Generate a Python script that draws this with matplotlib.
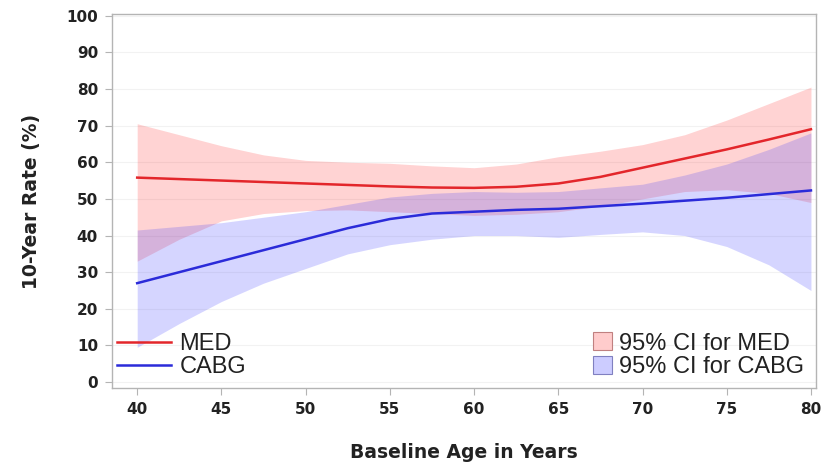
import numpy as np
import matplotlib
matplotlib.use("Agg")
import matplotlib.pyplot as plt
from matplotlib.patches import Patch

# -----------------------------
# Data
# -----------------------------
age = [40, 42.5, 45, 47.5, 50, 52.5, 55, 57.5, 60, 62.5, 65, 67.5, 70, 72.5, 75, 77.5, 80]

med = [55.8, 55.4, 55.0, 54.6, 54.2, 53.8, 53.4, 53.1, 53.0, 53.3, 54.2, 56.0, 58.5, 61.0, 63.5, 66.2, 69.0]
med_hi = [70.5, 67.5, 64.5, 62.0, 60.5, 60.0, 59.7, 59.0, 58.5, 59.5, 61.5, 63.0, 64.8, 67.5, 71.5, 76.0, 80.5]
med_lo = [33.0, 39.0, 44.0, 46.0, 46.8, 47.0, 46.5, 46.0, 45.5, 45.8, 46.5, 48.0, 50.0, 52.0, 52.5, 51.5, 49.0]

cabg = [27.0, 30.0, 33.0, 36.0, 39.0, 42.0, 44.5, 46.0, 46.5, 47.0, 47.3, 48.0, 48.7, 49.5, 50.3, 51.3, 52.3]
cabg_hi = [41.5, 42.5, 43.5, 45.0, 46.5, 48.5, 50.5, 51.5, 52.0, 51.8, 52.0, 53.0, 54.0, 56.5, 59.5, 63.5, 68.0]
cabg_lo = [9.5, 16.0, 22.0, 27.0, 31.0, 35.0, 37.5, 39.0, 40.0, 40.0, 39.5, 40.3, 41.0, 40.0, 37.0, 32.0, 25.0]

xticks = [40, 45, 50, 55, 60, 65, 70, 75, 80]
yticks = list(range(0, 101, 10))

red = "#e3262b"
blue = "#2b2bd9"

# -----------------------------
# Plot
# -----------------------------
fig = plt.figure(figsize=(8.23, 4.72), dpi=100)
ax = fig.add_axes([0.136, 0.178, 0.8555, 0.792])

ax.fill_between(age, med_lo, med_hi, color="#ff3030", alpha=0.21, linewidth=0)
ax.fill_between(age, cabg_lo, cabg_hi, color="#3030ff", alpha=0.2, linewidth=0)
l1, = ax.plot(age, med, color=red, lw=1.8)
l2, = ax.plot(age, cabg, color=blue, lw=1.8)

ax.set_xlim(38.5, 80.3)
ax.set_ylim(-1.6, 100.4)
ax.set_xticks(xticks)
ax.set_yticks(yticks)
ax.grid(axis="y", color="#f2f2f2", lw=0.8)
ax.set_axisbelow(True)

for s in ax.spines.values():
    s.set_color("#b4b4b4")
    s.set_linewidth(1.0)
ax.tick_params(colors="#b4b4b4", length=5, width=0.8, pad=5, labelcolor="#222222")
for lab in ax.get_xticklabels() + ax.get_yticklabels():
    lab.set_fontweight("bold")
    lab.set_fontsize(11)

ax.set_xlabel("Baseline Age in Years", fontsize=13.5, fontweight="bold", color="#222222", labelpad=19)
ax.set_ylabel("10-Year Rate (%)", fontsize=13.5, fontweight="bold", color="#222222", labelpad=18)

leg1 = ax.legend(handles=[l1, l2], labels=["MED", "CABG"], loc="lower left",
                 bbox_to_anchor=(-0.01, -0.005), frameon=False,
                 prop={"family": "Liberation Sans", "size": 17},
                 handlelength=2.3, handletextpad=0.35, labelspacing=0.05,
                 borderaxespad=0.1)
for t in leg1.get_texts():
    t.set_color("#222222")
ax.add_artist(leg1)

p1 = Patch(facecolor="#ffcccc", edgecolor="#c08080", lw=0.8)
p2 = Patch(facecolor="#ccccff", edgecolor="#8080c0", lw=0.8)
leg2 = ax.legend(handles=[p1, p2], labels=["95% CI for MED", "95% CI for CABG"],
                 loc="lower right", bbox_to_anchor=(1.0, -0.005), frameon=False,
                 prop={"family": "Liberation Sans", "size": 17},
                 handlelength=0.8, handleheight=0.8, handletextpad=0.3,
                 labelspacing=0.05, borderaxespad=0.1)
for t in leg2.get_texts():
    t.set_color("#222222")

fig.savefig("out.png", dpi=100)
